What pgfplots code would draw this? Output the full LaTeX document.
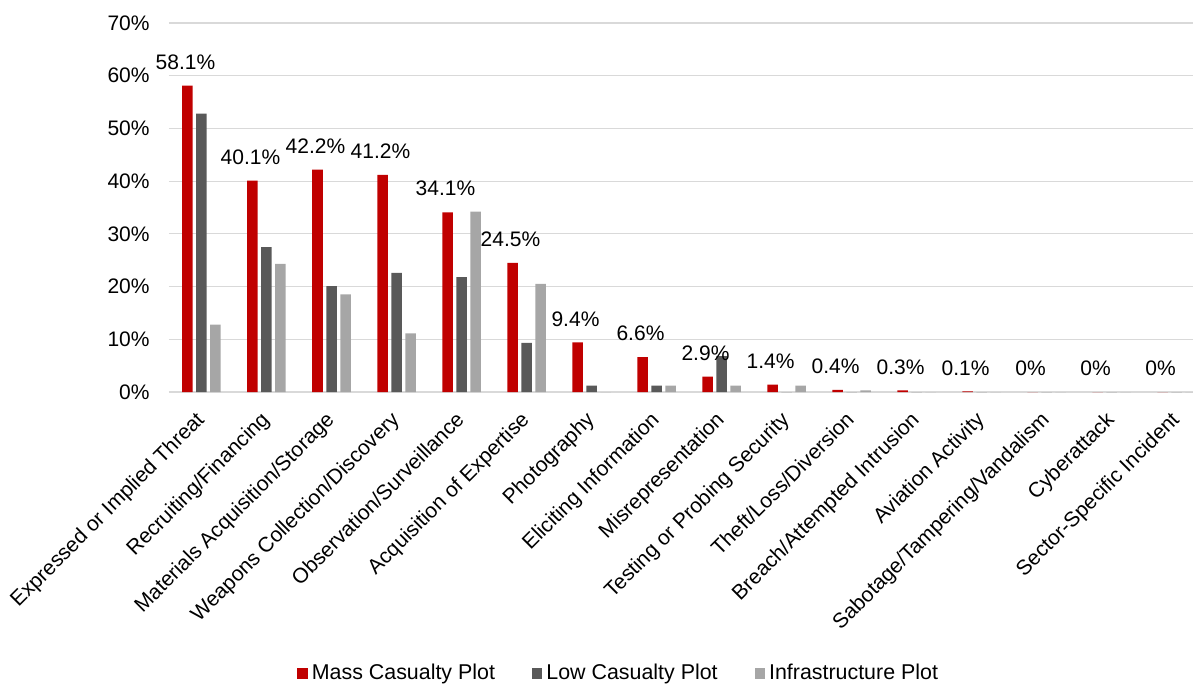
\documentclass[border=0pt]{standalone}
\usepackage{fontspec}
\setmainfont{Liberation Sans}
\usepackage{pgfplots}
\pgfplotsset{compat=1.18}
\definecolor{massc}{HTML}{C00000}
\definecolor{lowc}{HTML}{595959}
\definecolor{infc}{HTML}{A6A6A6}
\definecolor{gridc}{HTML}{D9D9D9}
\begin{document}
\fontsize{10.5}{12.5}\selectfont
\begin{tikzpicture}
\useasboundingbox (-84.5pt,-146.5pt) rectangle (512pt,196pt);
\begin{axis}[
  at={(0,0)}, anchor=south west,
  scale only axis, width=520pt, height=184.5pt,
  ybar=1.75pt, bar width=5.25pt,
  xmin=-0.5, xmax=15.5, ymin=0, ymax=70,
  xtick={0,...,15},
  xticklabels={Expressed or Implied Threat,Recruiting/Financing,Materials Acquisition/Storage,Weapons Collection/Discovery,Observation/Surveillance,Acquisition of Expertise,Photography,Eliciting Information,Misrepresentation,Testing or Probing Security,Theft/Loss/Diversion,Breach/Attempted Intrusion,Aviation Activity,Sabotage/Tampering/Vandalism,Cyberattack,Sector-Specific Incident},
  xticklabel style={xshift=-3.5pt, yshift=-7.5pt, rotate=45, anchor=north east, inner sep=1pt, font=\fontsize{10.5}{12.5}\selectfont},
  ytick={0,10,...,70},
  yticklabel={\pgfmathprintnumber{\tick}\%},
  yticklabel style={font=\fontsize{10.5}{12.5}\selectfont, xshift=-6pt},
  /pgf/number format/assume math mode=true,
  ymajorgrids, grid style={gridc, line width=0.6pt},
  major tick length=0pt,
  axis line style={draw=none},
  axis x line*=bottom, axis y line*=left,
  x axis line style={draw=gridc, line width=0.8pt},
  y axis line style={draw=none},
  legend style={at={(0.4334,-0.762)}, anchor=center, draw=none, legend columns=3,
    font=\fontsize{10.7}{12.5}\selectfont,
    /tikz/every even column/.append style={column sep=16.5pt}},
  legend image code/.code={\fill[#1] (0pt,-2.7pt) rectangle (5.2pt,2.5pt);},
  clip=false,
]
\addplot[fill=massc, draw=none,
  nodes near coords, point meta=explicit symbolic,
  every node near coord/.append style={anchor=center, yshift=11.75pt, xshift=-1pt, text=black, font=\fontsize{10.5}{12.5}\selectfont}]
  coordinates {(0,58.1) [58.1\%] (1,40.1) [40.1\%] (2,42.2) [42.2\%] (3,41.2) [41.2\%] (4,34.1) [34.1\%] (5,24.5) [24.5\%] (6,9.4) [9.4\%] (7,6.6) [6.6\%] (8,2.9) [2.9\%] (9,1.4) [1.4\%] (10,0.4) [0.4\%] (11,0.3) [0.3\%] (12,0.1) [0.1\%] (13,0) [0\%] (14,0) [0\%] (15,0) [0\%]};
\addplot[fill=lowc, draw=none] coordinates {(0,52.8) (1,27.5) (2,20.1) (3,22.6) (4,21.8) (5,9.3) (6,1.2) (7,1.2) (8,6.8) (9,0) (10,0) (11,0) (12,0) (13,0) (14,0) (15,0)};
\addplot[fill=infc, draw=none] coordinates {(0,12.8) (1,24.3) (2,18.5) (3,11.1) (4,34.2) (5,20.5) (6,0) (7,1.2) (8,1.2) (9,1.2) (10,0.3) (11,0) (12,0) (13,0) (14,0) (15,0)};
\legend{Mass Casualty Plot,Low Casualty Plot,Infrastructure Plot}
\end{axis}
\end{tikzpicture}
\end{document}
